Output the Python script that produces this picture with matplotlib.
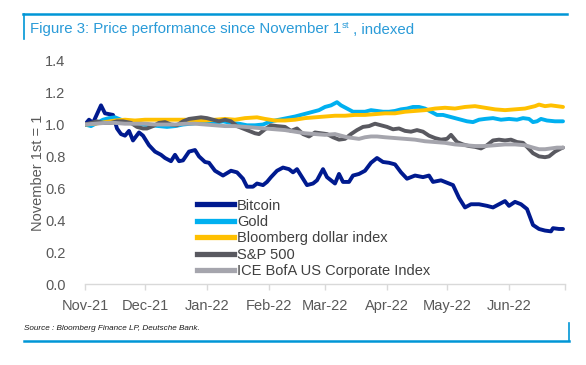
import numpy as np
import matplotlib
matplotlib.use("Agg")
import matplotlib.pyplot as plt
from matplotlib.lines import Line2D

plt.rcParams['font.family'] = ['Liberation Sans', 'DejaVu Sans']

# ---------------- data (day offsets from 1 Nov 2021, index value) ----------------
btc_days = [0, 2, 4, 8, 10, 14, 16, 18, 20, 22, 24, 27, 29, 32, 35, 38, 40, 43, 45, 47, 49, 52, 55, 57, 60,
            62, 65, 69, 73, 76, 79, 81, 84, 86, 89, 91, 93, 96, 99, 102, 104, 106, 108, 111, 114, 116, 119,
            121, 123, 125, 127, 129, 132, 134, 137, 140, 143, 146, 149, 152, 155, 158, 161, 165, 169, 172,
            174, 178, 182, 184, 187, 190, 193, 197, 201, 204, 207, 210, 212, 215, 218, 221, 224, 227, 230,
            233, 234, 237, 239]
btc_vals = [1.00, 1.03, 1.01, 1.12, 1.07, 1.06, 0.975, 0.94, 0.93, 0.96, 0.90, 0.95, 0.93, 0.87, 0.83, 0.81,
            0.79, 0.77, 0.81, 0.77, 0.775, 0.83, 0.84, 0.80, 0.765, 0.76, 0.71, 0.68, 0.71, 0.70, 0.66, 0.61,
            0.61, 0.63, 0.62, 0.64, 0.67, 0.71, 0.73, 0.72, 0.70, 0.72, 0.68, 0.62, 0.63, 0.65, 0.72, 0.67,
            0.65, 0.63, 0.69, 0.64, 0.64, 0.68, 0.69, 0.71, 0.76, 0.79, 0.765, 0.76, 0.75, 0.70, 0.66, 0.68,
            0.67, 0.68, 0.64, 0.65, 0.63, 0.62, 0.54, 0.48, 0.50, 0.50, 0.49, 0.48, 0.50, 0.52, 0.49, 0.515,
            0.50, 0.47, 0.37, 0.345, 0.335, 0.33, 0.35, 0.345, 0.345]

gold_days = [0, 3, 6, 9, 12, 15, 18, 21, 25, 29, 33, 37, 41, 45, 49, 53, 57, 61, 65, 69, 73, 77, 81, 85, 89,
             93, 97, 101, 105, 108, 111, 114, 117, 120, 123, 126, 128, 131, 134, 137, 140, 143, 146, 149, 152,
             155, 158, 161, 164, 167, 170, 173, 176, 179, 182, 185, 188, 191, 194, 197, 200, 204, 208, 212,
             216, 219, 222, 224, 226, 228, 231, 235, 239]
gold_vals = [1.00, 0.99, 1.01, 1.03, 1.04, 1.045, 1.03, 1.02, 1.005, 1.00, 0.995, 0.99, 0.985, 0.99, 1.00,
             1.005, 1.01, 1.01, 1.01, 1.02, 1.01, 1.005, 0.995, 0.995, 1.00, 1.02, 1.03, 1.04, 1.05, 1.06, 1.07,
             1.08, 1.09, 1.11, 1.12, 1.14, 1.12, 1.10, 1.08, 1.08, 1.08, 1.09, 1.085, 1.08, 1.08, 1.085, 1.095,
             1.10, 1.11, 1.11, 1.10, 1.08, 1.06, 1.06, 1.05, 1.04, 1.03, 1.02, 1.015, 1.03, 1.035, 1.04, 1.03,
             1.035, 1.03, 1.04, 1.035, 1.015, 1.02, 1.035, 1.025, 1.02, 1.02]

usd_days = [0, 5, 10, 15, 20, 25, 30, 35, 40, 45, 50, 55, 60, 65, 70, 75, 80, 86, 90, 95, 100, 105, 110, 115,
            120, 125, 130, 135, 140, 145, 150, 155, 160, 165, 170, 175, 180, 185, 190, 195, 200, 205, 210,
            215, 220, 225, 227, 230, 233, 236, 239]
usd_vals = [1.00, 1.005, 1.015, 1.025, 1.03, 1.025, 1.03, 1.03, 1.03, 1.03, 1.03, 1.025, 1.025, 1.03, 1.035,
            1.03, 1.04, 1.045, 1.035, 1.025, 1.025, 1.03, 1.04, 1.045, 1.05, 1.055, 1.055, 1.06, 1.06, 1.065,
            1.07, 1.07, 1.08, 1.085, 1.09, 1.10, 1.105, 1.10, 1.11, 1.115, 1.105, 1.095, 1.09, 1.095, 1.10,
            1.115, 1.125, 1.115, 1.12, 1.115, 1.11]

spx_days = [0, 3, 6, 9, 13, 16, 19, 23, 26, 29, 31, 34, 37, 40, 43, 46, 49, 52, 55, 58, 61, 64, 67, 70, 73,
            76, 79, 82, 85, 87, 90, 93, 96, 100, 103, 106, 109, 112, 115, 118, 121, 124, 127, 130, 133, 136,
            139, 142, 145, 148, 151, 154, 157, 160, 163, 166, 169, 172, 175, 178, 181, 183, 186, 189, 192,
            195, 198, 201, 204, 207, 210, 213, 216, 219, 221, 224, 227, 230, 232, 235, 238, 239]
spx_vals = [1.00, 1.01, 1.02, 1.01, 1.01, 1.02, 1.02, 1.01, 0.985, 0.975, 0.975, 0.99, 1.01, 1.015, 1.00,
            0.995, 1.02, 1.035, 1.04, 1.045, 1.04, 1.03, 1.02, 1.03, 1.02, 0.99, 0.975, 0.96, 0.945, 0.94,
            0.97, 0.995, 0.99, 0.985, 0.96, 0.975, 0.94, 0.925, 0.95, 0.945, 0.94, 0.92, 0.905, 0.91, 0.94,
            0.965, 0.985, 0.99, 1.005, 0.995, 0.985, 0.97, 0.975, 0.96, 0.955, 0.965, 0.955, 0.93, 0.915,
            0.905, 0.91, 0.935, 0.89, 0.875, 0.865, 0.86, 0.85, 0.87, 0.90, 0.905, 0.90, 0.905, 0.89, 0.885,
            0.86, 0.82, 0.80, 0.795, 0.80, 0.83, 0.85, 0.855]

ice_days = [0, 5, 10, 15, 20, 25, 30, 35, 40, 45, 50, 55, 60, 65, 70, 75, 80, 85, 90, 95, 100, 105, 110, 115,
            120, 125, 128, 131, 134, 137, 140, 143, 146, 150, 155, 160, 165, 170, 175, 180, 185, 190, 195,
            200, 205, 210, 215, 220, 224, 227, 230, 233, 236, 239]
ice_vals = [1.00, 1.005, 1.01, 1.01, 1.005, 1.005, 1.005, 1.00, 1.00, 1.00, 1.005, 1.005, 1.00, 0.995, 0.99,
            0.99, 0.985, 0.98, 0.975, 0.97, 0.965, 0.955, 0.945, 0.94, 0.935, 0.94, 0.93, 0.92, 0.915, 0.91,
            0.92, 0.925, 0.925, 0.92, 0.915, 0.91, 0.905, 0.895, 0.89, 0.885, 0.875, 0.87, 0.865, 0.865, 0.87,
            0.875, 0.875, 0.87, 0.855, 0.845, 0.845, 0.85, 0.855, 0.855]

series_names = ["Bitcoin", "Gold", "Bloomberg dollar index", "S&P 500", "ICE BofA US Corporate Index"]
series_days = [btc_days, gold_days, usd_days, spx_days, ice_days]
series_vals = [btc_vals, gold_vals, usd_vals, spx_vals, ice_vals]
series_colors = ["#001A8F", "#00B0F0", "#FFC000", "#595960", "#A5A5AD"]

tick_labels = ["Nov-21", "Dec-21", "Jan-22", "Feb-22", "Mar-22", "Apr-22", "May-22", "Jun-22"]
y_ticks = [0.0, 0.2, 0.4, 0.6, 0.8, 1.0, 1.2, 1.4]

base = np.datetime64("2021-11-01")
end = base + np.timedelta64(240, "D")

# ---------------- figure ----------------
W, H = 586, 365
fig = plt.figure(figsize=(W / 100, H / 100), dpi=100)
ax = fig.add_axes([85 / W, 1 - 284 / H, (565 - 85) / W, (284 - 60.7) / H])

for d, v, c in zip(series_days, series_vals, series_colors):
    dates = base + np.array(d).astype("timedelta64[D]")
    ax.plot(dates, v, color=c, lw=2.8, solid_joinstyle="round", solid_capstyle="round")

ax.set_xlim(base, end)
ax.set_ylim(0, 1.4)

month_ticks = [np.datetime64(s) for s in ["2021-11-01", "2021-12-01", "2022-01-01", "2022-02-01",
                                          "2022-03-01", "2022-04-01", "2022-05-01", "2022-06-01"]]
ax.set_xticks(month_ticks + [end])
ax.set_xticklabels(tick_labels + [""])
ax.set_yticks(y_ticks)
ax.set_yticklabels([f"{t:.1f}" for t in y_ticks])

for s in ["top", "right", "left"]:
    ax.spines[s].set_visible(False)
ax.spines["bottom"].set_color("#D9D9D9")
ax.spines["bottom"].set_linewidth(1.0)
ax.tick_params(axis="x", direction="out", length=4, width=1.0, color="#D9D9D9",
               labelsize=10.5, labelcolor="#595959", pad=7)
ax.tick_params(axis="y", length=0, labelsize=10.5, labelcolor="#595959", pad=14)
ax.set_ylabel("November 1st = 1", fontsize=10.5, color="#595959", labelpad=0)

handles = [Line2D([0], [0], color=c, lw=3.8) for c in series_colors]
leg = ax.legend(handles, series_names, loc="upper left", bbox_to_anchor=(197 / W, 1 - 198.5 / H),
                bbox_transform=fig.transFigure, frameon=False, fontsize=10.5, labelspacing=0.17,
                handlelength=2.55, handletextpad=0.2, borderpad=0, borderaxespad=0)
for t in leg.get_texts():
    t.set_color("#404040")

# ---------------- frame and title ----------------
blue = "#0096D6"
fig.add_artist(Line2D([23 / W, 567 / W], [1 - 14 / H, 1 - 14 / H], color=blue, lw=1.8))
fig.add_artist(Line2D([23.5 / W, 23.5 / W], [1 - 14 / H, 1 - 39 / H], color=blue, lw=1.2))
fig.add_artist(Line2D([24 / W, 569 / W], [1 - 341 / H, 1 - 341 / H], color=blue, lw=1.8))
fig.add_artist(Line2D([568.5 / W, 568.5 / W], [1 - 341 / H, 1 - 323 / H], color=blue, lw=1.2))

title_color = "#2A9BD8"
ty = 1 - 29.5 / H
renderer = fig.canvas.get_renderer()
t1 = fig.text(30 / W, ty, "Figure 3: Price performance since November 1", fontsize=10.8,
              color=title_color, va="center", ha="left")
bb1 = t1.get_window_extent(renderer)
t2 = fig.text(bb1.x1 / W + 0.5 / W, ty + 4 / H, "st", fontsize=6.8, color=title_color,
              va="center", ha="left")
bb2 = t2.get_window_extent(renderer)
fig.text(bb2.x1 / W, ty, " , indexed", fontsize=10.8, color=title_color, va="center", ha="left")

fig.text(24 / W, 1 - 328.5 / H, "Source : Bloomberg Finance LP, Deutsche Bank.", fontsize=5.9,
         style="italic", color="#1a1a1a", va="center", ha="left")

fig.savefig("out.png", dpi=100)
